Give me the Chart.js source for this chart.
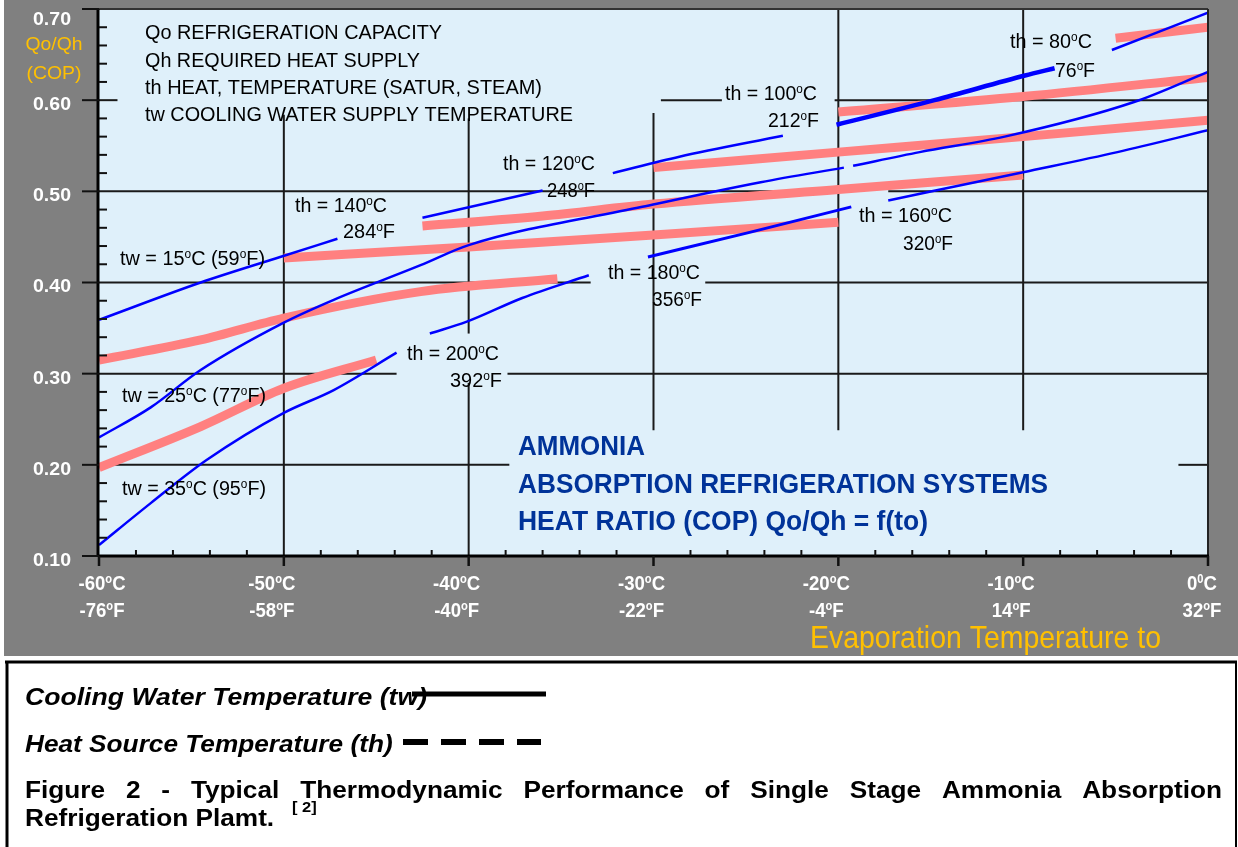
<!DOCTYPE html>
<html>
<head>
<meta charset="utf-8">
<title>Ammonia absorption refrigeration - COP</title>
<script src="https://cdn.jsdelivr.net/npm/chart.js"></script>
<style>
  html, body { margin: 0; padding: 0; background: #fff; }
  #wrap { width: 1238px; height: 847px; }
</style>
</head>
<body>
<div id="wrap"><canvas id="cop" width="1238" height="847"></canvas></div>
<script>
// evaporation temperature to (°C) and heat ratio Qo/Qh, one pair per trace
const blue1T = [-60, -54.5, -50.2, -47.1];
const blue1Q = [0.359, 0.400, 0.428, 0.448];
const blue2T = [-42.5, -36];
const blue2Q = [0.471, 0.501];
const blue3T = [-32.2, -28.6, -23];
const blue3Q = [0.520, 0.538, 0.561];
const blue4T = [-20.1, -14.8, -9.9, -8.3];
const blue4Q = [0.573, 0.600, 0.627, 0.635];
const blue5T = [-5.2, 0];
const blue5Q = [0.655, 0.696];
const blue6T = [-60, -57.2, -54.5, -50, -47.3, -42.6, -40, -30.6, -24.2, -19.7];
const blue6Q = [0.230, 0.263, 0.304, 0.356, 0.381, 0.419, 0.441, 0.483, 0.510, 0.526];
const blue7T = [-19.2, -15.6, -11, -4, 0];
const blue7Q = [0.528, 0.543, 0.560, 0.598, 0.631];
const blue8T = [-60, -57.2, -54.2, -50, -47.3, -43.9];
const blue8Q = [0.112, 0.158, 0.205, 0.257, 0.282, 0.323];
const blue9T = [-42.1, -40.1, -37.1, -33.5];
const blue9Q = [0.344, 0.357, 0.383, 0.408];
const blue10T = [-30.3, -24.8, -19.3];
const blue10Q = [0.428, 0.455, 0.483];
const blue11T = [-17.3, -10, -4.9, 0];
const blue11Q = [0.490, 0.521, 0.543, 0.567];

const pink1T = [-60, -54.5, -50, -42.6, -35.2];
const pink1Q = [0.315, 0.337, 0.361, 0.390, 0.404];
const pink2T = [-60, -54.5, -50, -45];
const pink2Q = [0.197, 0.242, 0.284, 0.315];
const pink3T = [-50, -40, -30, -20];
const pink3Q = [0.427, 0.439, 0.452, 0.466];
const pink4T = [-42.5, -36, -30, -20, -10];
const pink4Q = [0.462, 0.473, 0.486, 0.502, 0.518];
const pink5T = [-30, -20, -10, 0];
const pink5Q = [0.526, 0.543, 0.560, 0.578];
const pink6T = [-20, -10, 0];
const pink6Q = [0.587, 0.604, 0.625];
const pink7T = [-5, 0];
const pink7Q = [0.668, 0.680];

// axis ticks
const copTicks = [0.70, 0.60, 0.50, 0.40, 0.30, 0.20, 0.10];
const copLabels = ['0.70', '0.60', '0.50', '0.40', '0.30', '0.20', '0.10'];
const tempTicks = [-60, -50, -40, -30, -20, -10, 0];
const tempLabelsC = ['-60{o}C', '-50{o}C', '-40{o}C', '-30{o}C', '-20{o}C', '-10{o}C', '0{0}C'];
const tempLabelsF = ['-76{o}F', '-58{o}F', '-40{o}F', '-22{o}F', '-4{o}F', '14{o}F', '32{o}F'];

const FONT = '"Liberation Sans", Arial, sans-serif';
const PLOT_BG = '#dff0fa';
const GREY = '#808080';
const YELLOW = '#ffc000';
const NAVY = '#003399';

function pts(t, q) {
  return t.map((v, i) => ({ x: v, y: q[i] }));
}

function trace(t, q, color, width) {
  return {
    data: pts(t, q),
    borderColor: color,
    borderWidth: width,
    pointRadius: 0,
    fill: false,
    cubicInterpolationMode: 'monotone',
    borderCapStyle: 'butt'
  };
}

// text with {..} parts drawn as small raised superscripts, optionally squeezed to a width
function drawRich(ctx, str, x, y, o) {
  const size = o.size;
  const supSize = Math.round(size * 0.62);
  const font = s => `${o.style || 'normal'} ${o.weight || 'normal'} ${s}px ${FONT}`;
  const parts = str.split(/\{([^}]*)\}/);
  let w = 0;
  const widths = parts.map((p, i) => {
    ctx.font = font(i % 2 ? supSize : size);
    const m = ctx.measureText(p).width;
    w += m;
    return m;
  });
  const sx = o.width ? o.width / w : (o.sx || 1);
  let x0 = x;
  if (o.align === 'center') x0 = x - w * sx / 2;
  else if (o.align === 'right') x0 = x - w * sx;
  ctx.save();
  ctx.translate(x0, y + size * 0.36);
  ctx.scale(sx, 1);
  ctx.fillStyle = o.color || '#000';
  ctx.textAlign = 'left';
  ctx.textBaseline = 'alphabetic';
  let cx = 0;
  parts.forEach((p, i) => {
    ctx.font = font(i % 2 ? supSize : size);
    ctx.fillText(p, cx, i % 2 ? -size * 0.37 : 0);
    cx += widths[i];
  });
  ctx.restore();
}

function seg(ctx, x1, y1, x2, y2, width, color) {
  ctx.beginPath();
  ctx.moveTo(x1, y1);
  ctx.lineTo(x2, y2);
  ctx.lineWidth = width;
  ctx.strokeStyle = color;
  ctx.stroke();
}

// partial grid lines as in the figure: [cop, from to, to to] and [to, from cop, to cop]
const hGrid = [
  [0.60, -60, -59], [0.60, -29.6, -26.3], [0.60, -20.2, 0],
  [0.50, -60, -23.4], [0.50, -17.3, 0],
  [0.40, -60, -33.4], [0.40, -27.2, 0],
  [0.30, -60, -43.9], [0.30, -37.9, 0],
  [0.20, -60, -37.8], [0.20, -1.6, 0]
];
const vGrid = [
  [-50, 0.10, 0.584], [-40, 0.10, 0.290], [-40, 0.344, 0.580],
  [-30, 0.238, 0.586], [-20, 0.238, 0.70], [-10, 0.238, 0.70]
];

const figurePlugin = {
  id: 'figure',
  beforeDraw(chart) {
    const ctx = chart.ctx;
    const a = chart.chartArea;
    ctx.save();
    ctx.fillStyle = '#fff';
    ctx.fillRect(0, 0, chart.width, chart.height);
    ctx.fillStyle = GREY;
    ctx.fillRect(4, 0, chart.width - 4, 656);
    ctx.fillStyle = PLOT_BG;
    ctx.fillRect(a.left, a.top, a.right - a.left, a.bottom - a.top);
    ctx.restore();
  },
  beforeDatasetsDraw(chart) {
    const ctx = chart.ctx;
    const xs = chart.scales.x, ys = chart.scales.y;
    ctx.save();
    hGrid.forEach(([q, t1, t2]) => {
      const y = ys.getPixelForValue(q);
      seg(ctx, xs.getPixelForValue(t1), y, xs.getPixelForValue(t2), y, 2, '#1a1a1a');
    });
    vGrid.forEach(([t, q1, q2]) => {
      const x = xs.getPixelForValue(t);
      seg(ctx, x, ys.getPixelForValue(q1), x, ys.getPixelForValue(q2), 2, '#1a1a1a');
    });
    ctx.restore();
  },
  afterDatasetsDraw(chart) {
    const ctx = chart.ctx;
    const a = chart.chartArea;
    const xs = chart.scales.x, ys = chart.scales.y;
    ctx.save();

    // frame
    seg(ctx, a.left, a.top, a.right, a.top, 2, '#333');
    seg(ctx, a.right, a.top, a.right, a.bottom, 2, '#222');
    seg(ctx, a.left - 1, a.top, a.left - 1, a.bottom + 1, 3, '#000');
    seg(ctx, a.left - 1, a.bottom, a.right + 1, a.bottom, 3, '#000');

    // y ticks: minor every 0.02 inside, major outside
    for (let k = 12; k <= 68; k += 2) {
      if (k % 10 === 0) continue;
      const y = ys.getPixelForValue(k / 100);
      seg(ctx, a.left, y, a.left + 8, y, 2, '#111');
    }
    copTicks.forEach((q, i) => {
      const y = ys.getPixelForValue(q);
      seg(ctx, a.left - 17, y, a.left, y, 2, '#111');
      drawRich(ctx, copLabels[i], 71, Math.max(y + 3, 18), { size: 19, weight: 'bold', color: '#fff', align: 'right', width: 38 });
    });
    drawRich(ctx, 'Qo/Qh', 54, 43, { size: 19, color: YELLOW, align: 'center', width: 57 });
    drawRich(ctx, '(COP)', 54, 72, { size: 19, color: YELLOW, align: 'center', width: 55 });

    // x ticks: minor every 2 °C inside, major outside
    for (let t = -58; t < 0; t += 2) {
      if (t % 10 === 0) continue;
      const x = xs.getPixelForValue(t);
      seg(ctx, x, a.bottom - 6, x, a.bottom, 2, '#111');
    }
    tempTicks.forEach((t, i) => {
      const x = xs.getPixelForValue(t);
      seg(ctx, x, a.bottom, x, a.bottom + 10, 2.5, '#111');
      let cx = x - 12;
      if (i === 0) cx = x + 3;
      if (i === tempTicks.length - 1) cx = x - 6;
      drawRich(ctx, tempLabelsC[i], cx, 583, { size: 20, weight: 'bold', color: '#fff', align: 'center', sx: 0.93 });
      drawRich(ctx, tempLabelsF[i], cx, 610, { size: 20, weight: 'bold', color: '#fff', align: 'center', sx: 0.93 });
    });
    drawRich(ctx, 'Evaporation Temperature to', 810, 636, { size: 32, color: YELLOW, width: 351 });

    // notes and curve labels
    const notes = [
      ['Qo REFRIGERATION CAPACITY', 145, 32, 297],
      ['Qh REQUIRED HEAT SUPPLY', 145, 60, 275],
      ['th HEAT, TEMPERATURE (SATUR, STEAM)', 145, 87, 397],
      ['tw COOLING WATER SUPPLY TEMPERATURE', 145, 114, 428],
      ['tw = 15{o}C (59{o}F)', 120, 258, 145],
      ['th = 140{o}C', 295, 205, 92],
      ['284{o}F', 343, 231, 52],
      ['th = 120{o}C', 503, 163, 92],
      ['248{o}F', 547, 190, 48],
      ['th = 100{o}C', 725, 93, 92],
      ['212{o}F', 768, 120, 51],
      ['th = 80{o}C', 1010, 41, 82],
      ['76{o}F', 1055, 70, 40],
      ['th = 160{o}C', 859, 215, 93],
      ['320{o}F', 903, 243, 50],
      ['th = 180{o}C', 608, 272, 92],
      ['356{o}F', 652, 299, 50],
      ['th = 200{o}C', 407, 353, 92],
      ['392{o}F', 450, 380, 52],
      ['tw = 25{o}C (77{o}F)', 122, 395, 144],
      ['tw = 35{o}C (95{o}F)', 122, 488, 144]
    ];
    notes.forEach(([s, x, y, w]) => drawRich(ctx, s, x, y, { size: 20, width: w }));

    drawRich(ctx, 'AMMONIA', 518, 445, { size: 28, weight: 'bold', color: NAVY, width: 127 });
    drawRich(ctx, 'ABSORPTION REFRIGERATION SYSTEMS', 518, 483, { size: 28, weight: 'bold', color: NAVY, width: 530 });
    drawRich(ctx, 'HEAT RATIO (COP) Qo/Qh = f(to)', 518, 520, { size: 28, weight: 'bold', color: NAVY, width: 410 });

    // caption box
    seg(ctx, 5, 662, chart.width - 1, 662, 3, '#000');
    seg(ctx, 7, 662, 7, chart.height, 3, '#000');
    seg(ctx, 1236, 662, 1236, chart.height, 2, '#000');

    drawRich(ctx, 'Cooling Water Temperature (tw)', 25, 697, { size: 23, weight: 'bold', style: 'italic', width: 402 });
    seg(ctx, 412, 694, 546, 694, 5, '#000');
    drawRich(ctx, 'Heat Source Temperature (th)', 25, 744, { size: 23, weight: 'bold', style: 'italic', sx: 1.14 });
    ctx.setLineDash([25, 13]);
    seg(ctx, 403, 742, 541, 742, 6, '#000');
    ctx.setLineDash([]);

    // justified first caption line
    const words = 'Figure 2 - Typical Thermodynamic Performance of Single Stage Ammonia Absorption'.split(' ');
    const capSx = 1.14;
    ctx.font = `bold 23px ${FONT}`;
    const ww = words.map(wd => ctx.measureText(wd).width * capSx);
    const total = ww.reduce((s, v) => s + v, 0);
    const gap = (1222 - 25 - total) / (words.length - 1);
    let cx = 25;
    words.forEach((wd, i) => {
      drawRich(ctx, wd, cx, 790, { size: 23, weight: 'bold', sx: capSx });
      cx += ww[i] + gap;
    });
    drawRich(ctx, 'Refrigeration Plamt.', 25, 818, { size: 23, weight: 'bold', sx: capSx });
    drawRich(ctx, '[ 2]', 292, 807, { size: 15, weight: 'bold', sx: 1.1 });

    ctx.restore();
  }
};

const datasets = [
  trace(blue1T, blue1Q, '#0000ff', 2.5),
  trace(blue2T, blue2Q, '#0000ff', 2.5),
  trace(blue3T, blue3Q, '#0000ff', 2.5),
  trace(blue4T, blue4Q, '#0000ff', 4.5),
  trace(blue5T, blue5Q, '#0000ff', 2.5),
  trace(blue6T, blue6Q, '#0000ff', 2.5),
  trace(blue7T, blue7Q, '#0000ff', 2.5),
  trace(blue8T, blue8Q, '#0000ff', 2.5),
  trace(blue9T, blue9Q, '#0000ff', 2.5),
  trace(blue10T, blue10Q, '#0000ff', 3),
  trace(blue11T, blue11Q, '#0000ff', 2.5),
  trace(pink1T, pink1Q, '#ff8080', 9),
  trace(pink2T, pink2Q, '#ff8080', 9),
  trace(pink3T, pink3Q, '#ff8080', 9),
  trace(pink4T, pink4Q, '#ff8080', 9),
  trace(pink5T, pink5Q, '#ff8080', 9),
  trace(pink6T, pink6Q, '#ff8080', 9),
  trace(pink7T, pink7Q, '#ff8080', 9)
];

new Chart(document.getElementById('cop').getContext('2d'), {
  type: 'line',
  data: { datasets: datasets },
  options: {
    responsive: false,
    devicePixelRatio: 1,
    animation: false,
    events: [],
    layout: { padding: { left: 99, top: 9, right: 30, bottom: 291 } },
    scales: {
      x: { type: 'linear', min: -60, max: 0, display: false },
      y: { type: 'linear', min: 0.1, max: 0.7, display: false }
    },
    plugins: {
      legend: { display: false },
      tooltip: { enabled: false }
    }
  },
  plugins: [figurePlugin]
});
</script>
</body>
</html>
